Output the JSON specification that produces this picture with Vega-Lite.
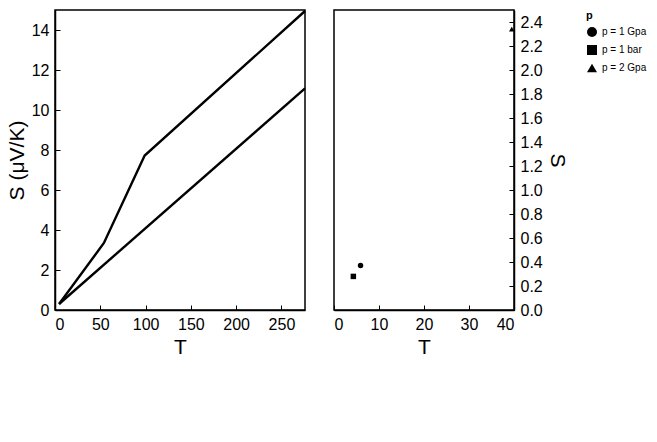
{
  "$schema": "https://vega.github.io/schema/vega-lite/v6.json",
  "spacing": 21,
  "background": "white",
  "config": {
    "font": "Liberation Sans",
    "view": {"stroke": "black", "strokeWidth": 1.5},
    "axis": {
      "domainColor": "black", "domainWidth": 1.5,
      "tickColor": "black", "tickSize": -5, "tickWidth": 1,
      "labelColor": "black", "labelFontSize": 16, "labelFont": "Liberation Sans",
      "titleFont": "Liberation Sans", "titleFontSize": 21, "titleFontWeight": "normal", "titleColor": "black",
      "grid": false, "labelPadding": 11
    }
  },
  "datasets": {
    "curves": [
      {"series": "p = 1 bar", "T": 4.5, "S": 0.3}, {"series": "p = 1 bar", "T": 54, "S": 3.35}, {"series": "p = 1 bar", "T": 99, "S": 7.72}, {"series": "p = 1 bar", "T": 276, "S": 14.95},
      {"series": "p = 2 Gpa", "T": 4.5, "S": 0.3}, {"series": "p = 2 Gpa", "T": 276, "S": 11.08}
    ],
    "pts": [
      {"p": "p = 1 bar", "T": 4.3, "S": 0.28}, {"p": "p = 1 Gpa", "T": 5.9, "S": 0.37}, {"p": "p = 2 Gpa", "T": 39.5, "S": 2.34}
    ]
  },
  "hconcat": [
    {
      "width": 250,
      "height": 300,
      "data": {"name": "curves"},
      "mark": {"type": "line", "color": "black", "strokeWidth": 2.4},
      "encoding": {
        "x": {"field": "T", "type": "quantitative", "scale": {"domain": [0, 276], "nice": false}},
        "y": {"field": "S", "type": "quantitative", "scale": {"domain": [0, 15], "nice": false}, "axis": {"title": "S (μV/K)"}},
        "detail": {"field": "series", "type": "nominal"}
      }
    },
    {
      "width": 180,
      "height": 300,
      "data": {"name": "pts"},
      "mark": {"type": "point", "filled": true, "color": "black", "opacity": 1},
      "encoding": {
        "x": {"field": "T", "type": "quantitative", "scale": {"domain": [0, 40], "nice": false}},
        "y": {"field": "S", "type": "quantitative", "scale": {"domain": [0, 2.5], "nice": false}, "axis": {"orient": "right"}},
        "shape": {"field": "p", "type": "nominal"}
      }
    }
  ]
}
